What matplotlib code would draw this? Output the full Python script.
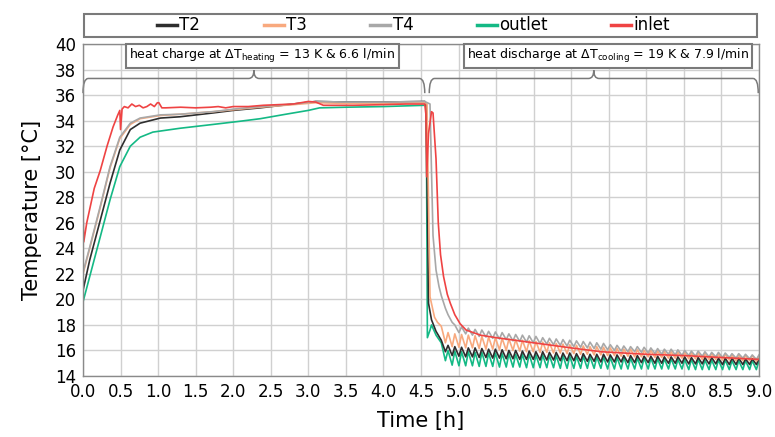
import matplotlib
matplotlib.use("Agg")
import matplotlib.pyplot as plt
from matplotlib.path import Path
from matplotlib.patches import PathPatch, Rectangle

# ---------------- data ----------------
# heating phase + drop (time [h], temperature [degC])
t2_t = [0.0, 0.09, 0.23, 0.36, 0.49, 0.63, 0.76, 1.03, 1.29, 1.73, 2.0, 2.36, 2.8, 3.1, 3.5, 4.0, 4.55, 4.57, 4.6, 4.64, 4.7]
t2_v = [20.7, 23.1, 26.2, 29.1, 31.7, 33.3, 33.8, 34.2, 34.3, 34.6, 34.8, 35.0, 35.3, 35.5, 35.45, 35.45, 35.5, 35.3, 19.7, 18.4, 17.5]

t3_t = [0.0, 0.09, 0.23, 0.36, 0.49, 0.63, 0.76, 1.03, 1.29, 1.73, 2.0, 2.36, 2.8, 3.1, 3.5, 4.0, 4.55, 4.58, 4.62, 4.68, 4.72]
t3_v = [22.0, 24.0, 27.2, 30.3, 32.6, 33.7, 34.15, 34.4, 34.5, 34.7, 34.85, 35.05, 35.25, 35.4, 35.35, 35.35, 35.4, 35.3, 20.2, 18.6, 18.2]

t4_t = [0.0, 0.09, 0.23, 0.36, 0.49, 0.63, 0.76, 1.03, 1.29, 1.73, 2.0, 2.36, 2.8, 3.1, 3.5, 4.0, 4.55, 4.62, 4.64, 4.66, 4.7, 4.74]
t4_v = [22.1, 24.1, 27.3, 30.4, 32.7, 33.8, 34.2, 34.45, 34.5, 34.7, 34.9, 35.1, 35.3, 35.5, 35.45, 35.45, 35.5, 35.3, 30.0, 25.0, 22.3, 21.0]

out_t = [0.0, 0.09, 0.23, 0.36, 0.49, 0.63, 0.76, 0.93, 1.29, 1.73, 2.09, 2.36, 2.7, 3.0, 3.15, 3.5, 4.0, 4.55, 4.565, 4.575, 4.585, 4.62, 4.64, 4.7]
out_v = [19.8, 21.8, 24.9, 27.8, 30.4, 32.0, 32.7, 33.1, 33.4, 33.7, 33.95, 34.15, 34.5, 34.8, 35.0, 35.05, 35.1, 35.2, 35.2, 29.5, 17.0, 17.6, 18.0, 17.2]

inl_t = [0.0, 0.0, 0.01, 0.05, 0.15, 0.23, 0.32, 0.40, 0.46, 0.49, 0.50, 0.52, 0.55, 0.60, 0.65, 0.70, 0.75,
         0.80, 0.85, 0.90, 0.95, 0.99, 1.01, 1.05, 1.1, 1.3, 1.5, 1.7, 1.8, 1.9, 2.0, 2.2, 2.4, 2.6, 2.8,
         3.0, 3.1, 3.2, 3.3, 3.6, 4.0, 4.3, 4.55, 4.565, 4.575, 4.6, 4.64, 4.66, 4.7, 4.73, 4.76, 4.8,
         4.85, 4.89, 4.95, 5.02, 5.1, 5.29, 5.5, 6.0, 6.5, 6.9, 7.5, 8.0, 8.5, 9.0]
inl_v = [23.6, 26.8, 24.5, 26.0, 28.7, 30.1, 32.0, 33.5, 34.4, 34.8, 33.3, 34.9, 35.1, 35.0, 35.3, 35.1, 35.2,
         35.0, 35.1, 35.3, 35.1, 35.4, 35.4, 35.0, 35.0, 35.05, 35.0, 35.05, 35.1, 35.0, 35.1, 35.1, 35.2, 35.25, 35.3,
         35.5, 35.45, 35.2, 35.2, 35.2, 35.25, 35.3, 35.3, 34.5, 29.6, 33.0, 34.7, 34.6, 31.0, 26.0, 23.5, 21.8,
         20.4, 19.7, 18.8, 18.1, 17.6, 17.2, 17.0, 16.6, 16.2, 15.9, 15.7, 15.6, 15.45, 15.3]

# discharge cycling: times of the peaks and of the following troughs [h]
peak_t = [4.77, 4.86, 4.95, 5.04, 5.13, 5.22, 5.31, 5.40, 5.49, 5.58, 5.67, 5.76, 5.85, 5.94, 6.03, 6.12,
          6.21, 6.30, 6.39, 6.48, 6.57, 6.66, 6.75, 6.84, 6.93, 7.02, 7.11, 7.20, 7.29, 7.38, 7.47, 7.56,
          7.65, 7.74, 7.83, 7.92, 8.01, 8.10, 8.19, 8.28, 8.37, 8.46, 8.55, 8.64, 8.73, 8.82, 8.91, 9.00]
trough_t = [4.825, 4.915, 5.005, 5.095, 5.185, 5.275, 5.365, 5.455, 5.545, 5.635, 5.725, 5.815, 5.905, 5.995, 6.085, 6.175,
            6.265, 6.355, 6.445, 6.535, 6.625, 6.715, 6.805, 6.895, 6.985, 7.075, 7.165, 7.255, 7.345, 7.435, 7.525, 7.615,
            7.705, 7.795, 7.885, 7.975, 8.065, 8.155, 8.245, 8.335, 8.425, 8.515, 8.605, 8.695, 8.785, 8.875, 8.965, None]

t4_peak = [20.3, 18.8, 18.0, 17.85, 17.75, 17.65, 17.6, 17.5, 17.45, 17.4, 17.3, 17.25, 17.2, 17.15, 17.1, 17.0,
           16.95, 16.9, 16.85, 16.8, 16.75, 16.7, 16.65, 16.6, 16.55, 16.45, 16.4, 16.35, 16.3, 16.3, 16.25, 16.2,
           16.15, 16.1, 16.1, 16.05, 16.0, 15.95, 15.95, 15.9, 15.85, 15.85, 15.8, 15.75, 15.75, 15.7, 15.65, 15.65]
t4_trough = [19.3, 18.2, 17.4, 17.3, 17.2, 17.1, 17.05, 16.95, 16.9, 16.85, 16.75, 16.7, 16.65, 16.6, 16.55, 16.5,
             16.45, 16.4, 16.35, 16.3, 16.25, 16.2, 16.15, 16.1, 16.05, 16.0, 15.95, 15.9, 15.9, 15.85, 15.8, 15.75,
             15.7, 15.7, 15.65, 15.6, 15.6, 15.55, 15.55, 15.5, 15.5, 15.45, 15.45, 15.4, 15.4, 15.35, 15.3, 15.3]

t3_peak = [17.9, 17.4, 17.3, 17.25, 17.2, 17.15, 17.1, 17.05, 17.0, 16.95, 16.9, 16.85, 16.8, 16.75, 16.7, 16.65,
           16.6, 16.55, 16.5, 16.45, 16.4, 16.35, 16.3, 16.3, 16.25, 16.2, 16.15, 16.1, 16.1, 16.05, 16.0, 16.0,
           15.95, 15.9, 15.9, 15.85, 15.85, 15.8, 15.8, 15.75, 15.75, 15.7, 15.7, 15.65, 15.65, 15.6, 15.6, 15.55]
t3_trough = [16.6, 16.3, 16.25, 16.2, 16.2, 16.15, 16.1, 16.1, 16.05, 16.0, 16.0, 15.95, 15.9, 15.9, 15.85, 15.85,
             15.8, 15.8, 15.75, 15.75, 15.7, 15.7, 15.65, 15.65, 15.6, 15.6, 15.55, 15.55, 15.5, 15.5, 15.5, 15.45,
             15.45, 15.4, 15.4, 15.4, 15.35, 15.35, 15.3, 15.3, 15.3, 15.25, 15.25, 15.2, 15.2, 15.2, 15.15, 15.15]

t2_peak = [16.8, 16.4, 16.3, 16.25, 16.2, 16.2, 16.15, 16.1, 16.1, 16.05, 16.0, 16.0, 15.95, 15.95, 15.9, 15.9,
           15.85, 15.85, 15.8, 15.8, 15.75, 15.75, 15.7, 15.7, 15.7, 15.65, 15.65, 15.6, 15.6, 15.6, 15.55, 15.55,
           15.55, 15.5, 15.5, 15.5, 15.5, 15.45, 15.45, 15.45, 15.45, 15.4, 15.4, 15.4, 15.4, 15.35, 15.35, 15.35]
t2_trough = [15.9, 15.6, 15.55, 15.5, 15.5, 15.45, 15.45, 15.4, 15.4, 15.35, 15.35, 15.3, 15.3, 15.3, 15.25, 15.25,
             15.25, 15.2, 15.2, 15.2, 15.15, 15.15, 15.15, 15.1, 15.1, 15.1, 15.1, 15.05, 15.05, 15.05, 15.05, 15.0,
             15.0, 15.0, 15.0, 15.0, 14.95, 14.95, 14.95, 14.95, 14.95, 14.9, 14.9, 14.9, 14.9, 14.9, 14.9, 14.9]

out_peak = [16.6, 16.0, 15.95, 15.9, 15.9, 15.85, 15.85, 15.8, 15.8, 15.75, 15.75, 15.7, 15.7, 15.7, 15.65, 15.65,
            15.6, 15.6, 15.6, 15.55, 15.55, 15.55, 15.5, 15.5, 15.5, 15.45, 15.45, 15.45, 15.4, 15.4, 15.4, 15.4,
            15.35, 15.35, 15.35, 15.3, 15.3, 15.3, 15.3, 15.25, 15.25, 15.25, 15.25, 15.2, 15.2, 15.2, 15.2, 15.2]
out_trough = [15.2, 14.85, 14.8, 14.8, 14.8, 14.75, 14.75, 14.75, 14.7, 14.7, 14.7, 14.7, 14.65, 14.65, 14.65, 14.65,
              14.65, 14.6, 14.6, 14.6, 14.6, 14.6, 14.6, 14.6, 14.55, 14.55, 14.55, 14.55, 14.55, 14.55, 14.55, 14.55,
              14.55, 14.55, 14.55, 14.55, 14.5, 14.5, 14.5, 14.5, 14.5, 14.5, 14.5, 14.5, 14.5, 14.5, 14.5, 14.5]

series_names = ["T2", "T3", "T4", "outlet", "inlet"]
series_colors = ["#2e2e2e", "#f8a97e", "#a8a8a8", "#14b985", "#ef4343"]

x_ticks = [0.0, 0.5, 1.0, 1.5, 2.0, 2.5, 3.0, 3.5, 4.0, 4.5, 5.0, 5.5, 6.0, 6.5, 7.0, 7.5, 8.0, 8.5, 9.0]
y_ticks = [14, 16, 18, 20, 22, 24, 26, 28, 30, 32, 34, 36, 38, 40]

heat_phase = (0.0, 4.55)
discharge_phase = (4.61, 8.99)
heat_label = r"heat charge at $\Delta$T$_{\mathrm{heating}}$ = 13 K & 6.6 l/min"
discharge_label = r"heat discharge at $\Delta$T$_{\mathrm{cooling}}$ = 19 K & 7.9 l/min"


def join(t_head, v_head, peaks, troughs):
    ts, vs = list(t_head), list(v_head)
    for pt, pv, tt, tv in zip(peak_t, peaks, trough_t, troughs):
        ts.append(pt); vs.append(pv)
        if tt is not None:
            ts.append(tt); vs.append(tv)
    return ts, vs


# ---------------- figure ----------------
fig = plt.figure(figsize=(7.75, 4.37), dpi=100)
ax = fig.add_axes([83 / 775, 1 - 376 / 437, 676 / 775, 332 / 437])

curves = {
    "outlet": join(out_t, out_v, out_peak, out_trough),
    "T2": join(t2_t, t2_v, t2_peak, t2_trough),
    "T3": join(t3_t, t3_v, t3_peak, t3_trough),
    "T4": join(t4_t, t4_v, t4_peak, t4_trough),
    "inlet": (inl_t, inl_v),
}
handles = {}
for name in ["outlet", "T2", "T3", "T4", "inlet"]:
    c = series_colors[series_names.index(name)]
    ts, vs = curves[name]
    handles[name], = ax.plot(ts, vs, color=c, lw=1.2, label=name)

ax.set_xlim(0, 9)
ax.set_ylim(14, 40)
ax.set_xticks(x_ticks)
ax.set_xticklabels([f"{v:.1f}" for v in x_ticks])
ax.set_yticks(y_ticks)
ax.grid(True, color="#d0d0d0", lw=1.0)
ax.set_axisbelow(True)
ax.tick_params(length=0, labelsize=12, pad=5)
for s in ax.spines.values():
    s.set_color("#8a8a8a")
    s.set_linewidth(1.0)
ax.set_xlabel("Time [h]", fontsize=15, labelpad=7)
ax.set_ylabel("Temperature [°C]", fontsize=15, labelpad=9)


def brace(x0, x1):
    xm = (x0 + x1) / 2
    ylo, ytop, ypk = 36.15, 37.3, 37.95
    r = 0.07
    verts = [(x0, ylo), (x0, ytop), (x0 + r, ytop),
             (xm - r, ytop), (xm, ytop), (xm, ypk),
             (xm, ytop), (xm + r, ytop),
             (x1 - r, ytop), (x1, ytop), (x1, ylo)]
    codes = [Path.MOVETO, Path.CURVE3, Path.CURVE3,
             Path.LINETO, Path.CURVE3, Path.CURVE3,
             Path.CURVE3, Path.CURVE3,
             Path.LINETO, Path.CURVE3, Path.CURVE3]
    ax.add_patch(PathPatch(Path(verts, codes), fill=False, edgecolor="#7a7a7a", lw=1.1, clip_on=False))


brace(*heat_phase)
brace(*discharge_phase)

box = dict(boxstyle="square,pad=0.25", fc="white", ec="#7a7a7a", lw=1.5)
ax.text(0.2655, 0.9639, heat_label, transform=ax.transAxes, ha="center", va="center", fontsize=9, bbox=box)
ax.text(0.7766, 0.9639, discharge_label, transform=ax.transAxes, ha="center", va="center", fontsize=9, bbox=box)

# legend box across the top
fig.patches.append(Rectangle((84 / 775, 1 - 37 / 437), 673 / 775, 23 / 437, transform=fig.transFigure,
                             fill=False, edgecolor="#7a7a7a", lw=1.5))
leg = fig.legend([handles[n] for n in series_names], series_names, loc="center",
                 bbox_to_anchor=(413.5 / 775, 1 - 25.5 / 437), ncol=5, frameon=False, fontsize=12,
                 handlelength=1.2, handletextpad=0.15, columnspacing=3.8, borderaxespad=0)
for ln in leg.get_lines():
    ln.set_linewidth(2.5)

fig.savefig("out.png", dpi=100)
